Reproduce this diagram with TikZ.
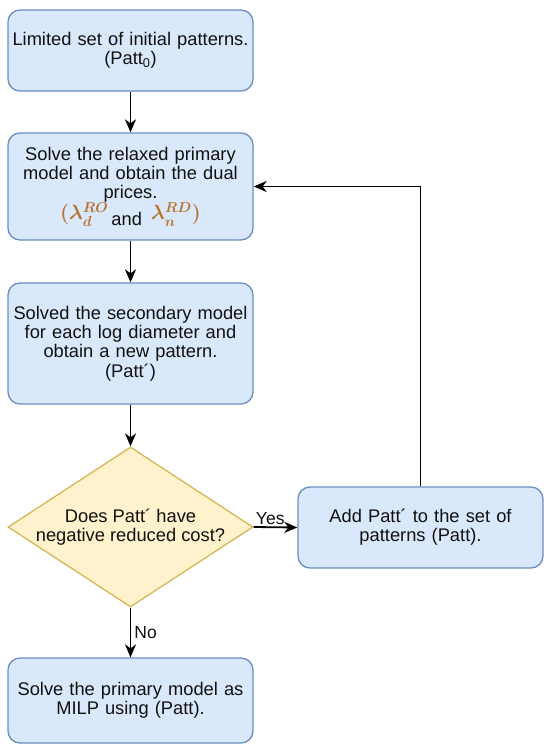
\documentclass[tikz,border=0pt]{standalone}
\usepackage{fix-cm}
\usepackage{fontspec}
\setmainfont{Liberation Sans}
\usetikzlibrary{shapes.geometric,arrows.meta}
\definecolor{bfill}{HTML}{DAE8FC}
\definecolor{bdraw}{HTML}{6C8EBF}
\definecolor{dfill}{HTML}{FFF2CC}
\definecolor{ddraw}{HTML}{D6B656}
\definecolor{lam}{HTML}{B8742E}
\definecolor{txt}{HTML}{111111}
\tikzset{
  procbox/.style={draw=bdraw, fill=bfill, line width=1.3pt, rounded corners=12pt,
    minimum width=245pt, text width=243pt, align=center, inner sep=0pt,
    font=\fontsize{18.3pt}{19.3pt}\selectfont, text=txt},
  decbox/.style={draw=ddraw, fill=dfill, line width=1.3pt, diamond, inner sep=0pt,
    minimum width=245pt, minimum height=160pt},
  dectext/.style={align=center, font=\fontsize{18.3pt}{19.3pt}\selectfont, text=txt},
  flow/.style={line width=1.8pt, -{Stealth[length=13pt,width=11pt,inset=4pt]}},
  lbl/.style={font=\fontsize{17.5pt}{19pt}\selectfont, text=txt, inner sep=0pt}
}
\newcommand{\lamtext}{{\fontsize{20.5pt}{21pt}\selectfont\boldmath\color{lam}$(\lambda^{RO}_{d}$}\,\raisebox{-0.55ex}{and}\enspace{\fontsize{20.5pt}{21pt}\selectfont\boldmath\color{lam}$\lambda^{RD}_{n})$}}
\begin{document}
\begin{tikzpicture}[x=1pt,y=1pt]
\useasboundingbox (0,0) rectangle (550,-752);
\node[procbox, minimum height=81pt] (b1) at (130.5,-50.5)
  {Limited set of initial patterns.\\(Patt\textsubscript{0})};
\node[procbox, minimum height=107pt] (b2) at (130.5,-186.5)
  {Solve the relaxed primary\\model and obtain the dual\\prices.\\[-1pt]\lamtext};
\node[procbox, minimum height=121pt] (b3) at (130.5,-343.5)
  {Solved the secondary model\\for each log diameter and\\obtain a new pattern.\\(Patt´)};
\node[decbox] (dec) at (130.5,-527) {};
\node[dectext] (dect) at (dec.center) {Does Patt´ have\\negative reduced cost?};
\node[procbox, minimum height=81pt] (add) at (420.5,-527.5)
  {Add Patt´ to the set of\\patterns (Patt).};
\node[procbox, minimum height=85pt] (b5) at (130.5,-700.5)
  {Solve the primary model as\\MILP using (Patt).};
\draw[flow] (b1.south) -- (b2.north);
\draw[flow] (b2.south) -- (b3.north);
\draw[flow] (b3.south) -- (dec.north);
\draw[flow] (dec.east) -- node[lbl, above, yshift=2pt, pos=0.38] (yes) {Yes} (add.west);
\draw[flow] (dec.south) -- node[lbl, right, xshift=3pt] (no) {No} (b5.north);
\draw[flow] (add.north) |- (b2.east);
\end{tikzpicture}
\end{document}
